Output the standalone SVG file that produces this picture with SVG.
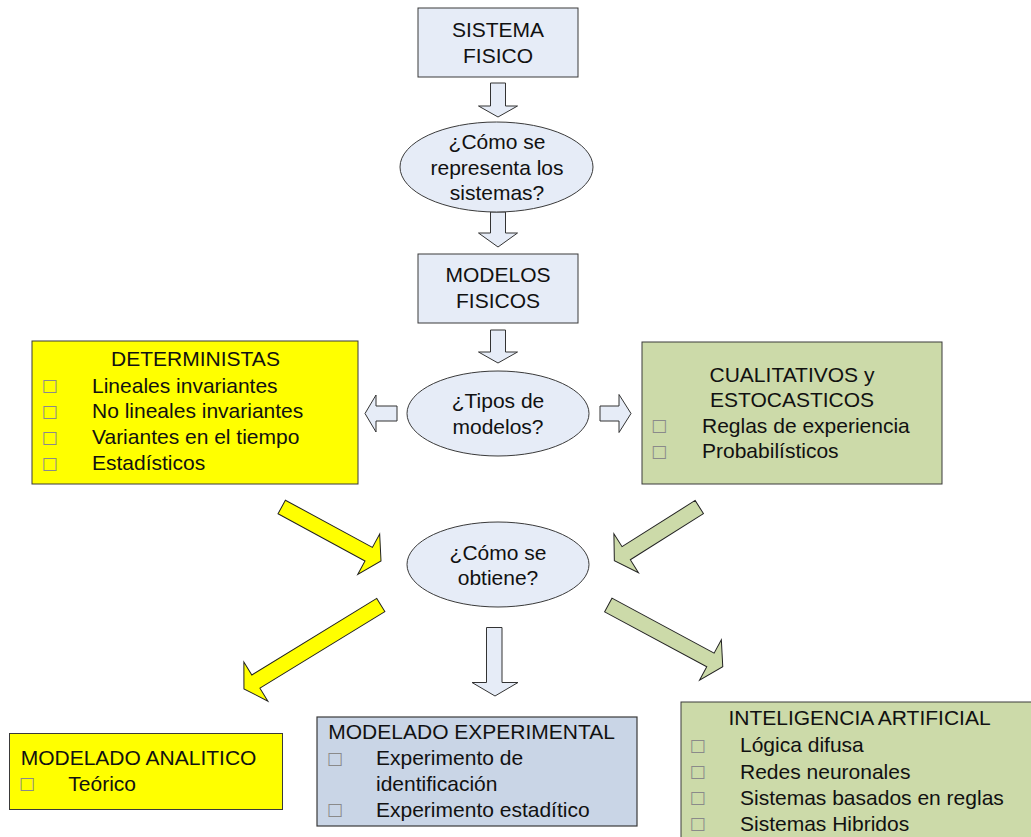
<svg xmlns="http://www.w3.org/2000/svg" width="1031" height="837" viewBox="0 0 1031 837">
<defs>
<style>
text{font-family:"Liberation Sans",Arial,sans-serif;font-size:21px;fill:#111}
.c{text-anchor:middle}
.b{font-family:"DejaVu Sans",sans-serif;font-size:17px;fill:#8a8a8a;text-anchor:middle}
.blue{fill:#E6ECF7;stroke:#3a3a3a;stroke-width:1}
.yel{fill:#FFFF00;stroke:#3a3a3a;stroke-width:1}
.grn{fill:#CCDAA9;stroke:#3a3a3a;stroke-width:1}
.exp{fill:#C9D5E6;stroke:#3a3a3a;stroke-width:1.2}
.arr{fill:#E6ECF7;stroke:#333;stroke-width:1}
.ya{fill:#FFFF00;stroke:#222;stroke-width:1}
.ga{fill:#CCDAA9;stroke:#222;stroke-width:1}
</style>
</defs>
<rect width="1031" height="837" fill="#fff"/>

<g id="connectors">
<path class="arr" d="M490.5,83 H505.5 V106 H517.5 L498,117 L478.5,106 H490.5 Z"/>
<path class="arr" d="M490.5,212 H505.5 V233 H517.5 L498,247 L478.5,233 H490.5 Z"/>
<path class="arr" d="M490.5,330 H505.5 V352 H517.5 L498,363 L478.5,352 H490.5 Z"/>
<path class="arr" d="M397,406 V421 H376 V432 L365,413.5 L376,395 V406 Z"/>
<path class="arr" d="M600,406 V421 H619 V432.5 L631,413.5 L619,394.5 V406 Z"/>
<path class="arr" d="M486.5,627.5 H502 V682.5 H518 L495,696 L472,682.5 H486.5 Z"/>
<path class="ya" transform="translate(281.7,507) rotate(28.5)" d="M0,-7.75 H99 V-23 L113,0 L99,23 V7.75 H0 Z"/>
<path class="ya" transform="translate(380.8,605) rotate(148.5)" d="M0,-7.75 H146.5 V-23 L160.5,0 L146.5,23 V7.75 H0 Z"/>
<path class="ga" transform="translate(699.3,507) rotate(147.7)" d="M0,-7.75 H86.5 V-23 L100.5,0 L86.5,23 V7.75 H0 Z"/>
<path class="ga" transform="translate(608.3,605) rotate(28.3)" d="M0,-7.75 H116 V-23 L130,0 L116,23 V7.75 H0 Z"/>
</g>

<g id="sistema-fisico">
<rect class="blue" x="418" y="8" width="160" height="69"/>
<text class="c" x="498" y="37">SISTEMA</text>
<text class="c" x="498" y="63">FISICO</text>
</g>

<g id="como-representa">
<ellipse class="blue" cx="496.5" cy="167" rx="96.5" ry="45"/>
<text class="c" x="497" y="149">¿Cómo se</text>
<text class="c" x="497" y="175">representa los</text>
<text class="c" x="497" y="200">sistemas?</text>
</g>

<g id="modelos-fisicos">
<rect class="blue" x="418" y="254" width="160" height="69"/>
<text class="c" x="498" y="282">MODELOS</text>
<text class="c" x="498" y="308">FISICOS</text>
</g>

<g id="tipos-modelos">
<ellipse class="blue" cx="498" cy="413.5" rx="91" ry="42.5"/>
<text class="c" x="498" y="408">¿Tipos de</text>
<text class="c" x="498" y="434">modelos?</text>
</g>

<g id="deterministas">
<rect class="yel" x="32" y="341" width="326" height="143"/>
<text class="c" x="195.5" y="366">DETERMINISTAS</text>
<text class="b" x="49.5" y="391">□</text><text x="92" y="392.5">Lineales invariantes</text>
<text class="b" x="49.5" y="416.8">□</text><text x="92" y="418.3">No lineales invariantes</text>
<text class="b" x="49.5" y="442.7">□</text><text x="92" y="444.2">Variantes en el tiempo</text>
<text class="b" x="49.5" y="468.5">□</text><text x="92" y="470">Estadísticos</text>
</g>

<g id="cualitativos">
<rect class="grn" x="642" y="342" width="300" height="142"/>
<text class="c" x="792" y="381.5">CUALITATIVOS y</text>
<text class="c" x="792" y="407">ESTOCASTICOS</text>
<text class="b" x="659" y="431">□</text><text x="702" y="432.5">Reglas de experiencia</text>
<text class="b" x="659" y="456.5">□</text><text x="702" y="458">Probabilísticos</text>
</g>

<g id="como-obtiene">
<ellipse class="blue" cx="498" cy="564.5" rx="91" ry="42.5"/>
<text class="c" x="498" y="559.5">¿Cómo se</text>
<text class="c" x="498" y="585">obtiene?</text>
</g>

<g id="modelado-analitico">
<rect class="yel" x="9.5" y="733.5" width="273" height="76"/>
<text x="20.7" y="765">MODELADO ANALITICO</text>
<text class="b" x="26.7" y="789.2">□</text><text x="68.3" y="790.7">Teórico</text>
</g>

<g id="modelado-experimental">
<rect class="exp" x="317" y="717" width="320" height="109"/>
<text x="328.3" y="739">MODELADO EXPERIMENTAL</text>
<text class="b" x="334.7" y="763.5">□</text><text x="376" y="765">Experimento de</text>
<text x="376" y="790.7">identificación</text>
<text class="b" x="334.7" y="815.2">□</text><text x="376" y="816.7">Experimento estadítico</text>
</g>

<g id="inteligencia-artificial">
<rect class="grn" x="681" y="702" width="360" height="150"/>
<text class="c" x="859.5" y="725">INTELIGENCIA ARTIFICIAL</text>
<text class="b" x="697.5" y="750.5">□</text><text x="740" y="752">Lógica difusa</text>
<text class="b" x="697.5" y="777">□</text><text x="740" y="778.5">Redes neuronales</text>
<text class="b" x="697.5" y="803">□</text><text x="740" y="804.5">Sistemas basados en reglas</text>
<text class="b" x="697.5" y="829">□</text><text x="740" y="830.5">Sistemas Hibridos</text>
</g>
</svg>
